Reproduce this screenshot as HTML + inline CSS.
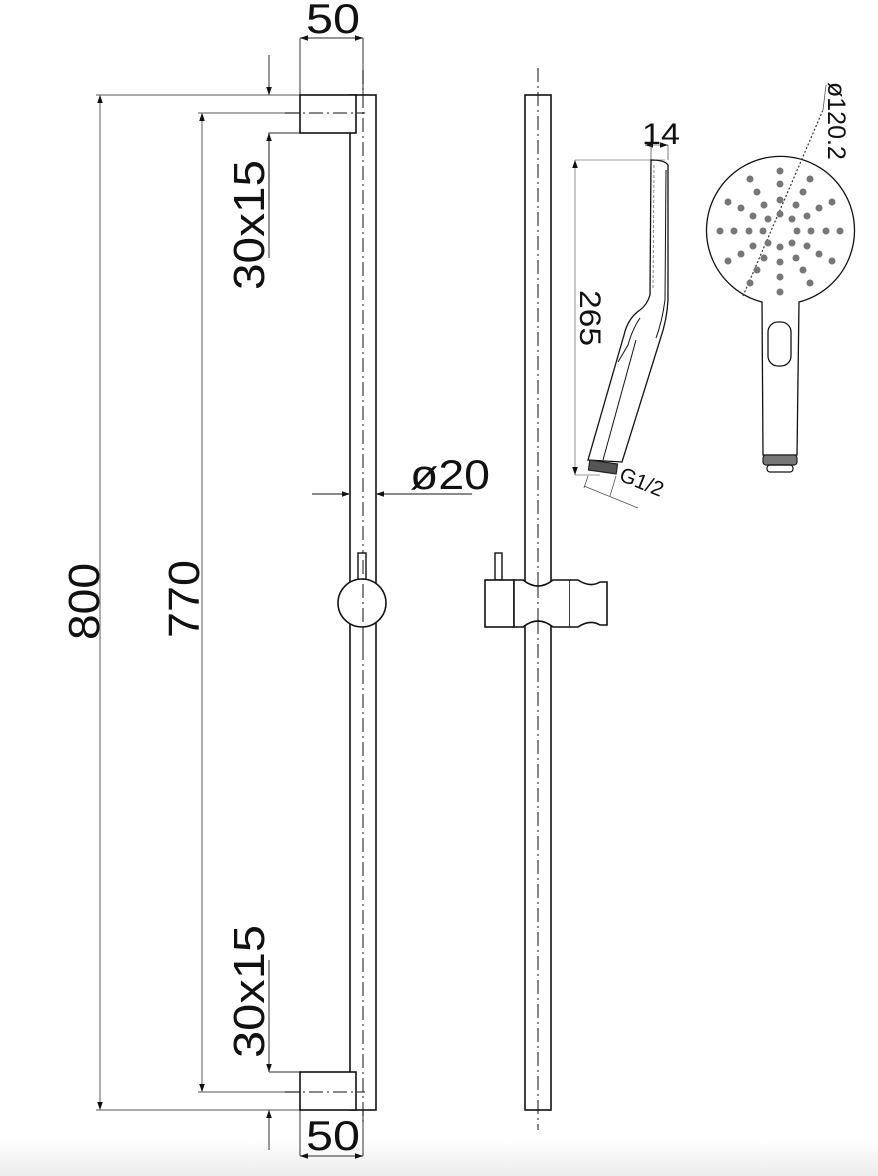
<!DOCTYPE html>
<html><head><style>
html,body{margin:0;padding:0;background:#fff;width:878px;height:1176px;overflow:hidden}
svg{display:block}
text{font-family:"Liberation Sans",sans-serif;fill:#111}
</style></head><body>
<svg width="878" height="1176" viewBox="0 0 878 1176">
<defs>
<linearGradient id="bg" x1="0" y1="0" x2="0" y2="1">
<stop offset="0" stop-color="#fff"/><stop offset="1" stop-color="#ececec"/>
</linearGradient>
<marker id="a" viewBox="0 0 10 10" refX="10" refY="5" markerWidth="12" markerHeight="8" orient="auto-start-reverse" markerUnits="userSpaceOnUse"><path d="M0,1.5 L10,5 L0,8.5 z" fill="#111"/></marker>
</defs>
<rect x="0" y="1140" width="878" height="36" fill="url(#bg)"/>
<g fill="none" stroke="#111" stroke-width="1.2">
<line x1="100" y1="95" x2="100" y2="1110" stroke="#777" marker-start="url(#a)" marker-end="url(#a)"/>
<line x1="96" y1="95" x2="300" y2="95" stroke="#777"/>
<line x1="96" y1="1110" x2="300" y2="1110" stroke="#777"/>
<line x1="202" y1="113" x2="202" y2="1092" stroke="#777" marker-start="url(#a)" marker-end="url(#a)"/>
<line x1="198" y1="113" x2="300" y2="113" stroke="#777"/>
<line x1="198" y1="1092" x2="300" y2="1092" stroke="#777"/>
<line x1="269" y1="55" x2="269" y2="95" stroke="#555" marker-end="url(#a)"/>
<polyline points="300,133 269,133 269,258" stroke="#555"/>
<line x1="269" y1="200" x2="269" y2="133" stroke="#555" marker-end="url(#a)"/>
<line x1="269" y1="960" x2="269" y2="1072" stroke="#555" marker-end="url(#a)"/>
<line x1="269" y1="1072" x2="300" y2="1072" stroke="#555"/>
<line x1="269" y1="1150" x2="269" y2="1110" stroke="#555" marker-end="url(#a)"/>
<line x1="300" y1="38" x2="300" y2="95" stroke="#555"/>
<line x1="363" y1="38" x2="363" y2="95" stroke="#555"/>
<line x1="300" y1="38" x2="363" y2="38" stroke="#555" marker-start="url(#a)" marker-end="url(#a)"/>
<line x1="300" y1="1110" x2="300" y2="1156" stroke="#555"/>
<line x1="363" y1="1110" x2="363" y2="1156" stroke="#555"/>
<line x1="300" y1="1156" x2="363" y2="1156" stroke="#555" marker-start="url(#a)" marker-end="url(#a)"/>
<rect x="350" y="95" width="26" height="1015" stroke-width="1.6"/>
<rect x="300" y="95" width="56" height="38" fill="#fff" stroke-width="1.6"/>
<rect x="300" y="1072" width="56" height="38" fill="#fff" stroke-width="1.6"/>
<line x1="363" y1="70" x2="363" y2="1125" stroke-dasharray="14,4,2,4" stroke-width="1"/>
<line x1="285" y1="113" x2="365" y2="113" stroke-dasharray="14,4,2,4" stroke-width="1"/>
<line x1="285" y1="1092" x2="365" y2="1092" stroke-dasharray="14,4,2,4" stroke-width="1"/>
<line x1="312" y1="494" x2="350" y2="494" stroke="#444" marker-end="url(#a)"/>
<line x1="472" y1="494" x2="376" y2="494" stroke="#444" marker-end="url(#a)"/>
<rect x="358" y="553" width="8" height="27" fill="#fff" stroke-width="1.4"/>
<circle cx="362" cy="603" r="24" fill="#fff" stroke-width="1.6"/>
<line x1="363" y1="560" x2="363" y2="650" stroke-dasharray="14,4,2,4" stroke-width="1"/>
<rect x="525" y="95" width="26" height="1015" stroke-width="1.6"/>
<line x1="538" y1="68" x2="538" y2="1130" stroke-dasharray="14,4,2,4" stroke-width="1"/>
<rect x="495" y="553" width="7" height="27" fill="#fff" stroke-width="1.4"/>
<rect x="485" y="580" width="29" height="47" fill="#fff" stroke-width="1.6"/>
<path d="M514,580 L523,580 Q538,592 553,580 L570,580 L570,627 L553,627 Q538,615 523,627 L514,627 Z" fill="#fff" stroke-width="1.6"/>
<path d="M570,580 L578,580 Q590,588 600,582 L607,582 L607,625 L600,625 Q590,619 578,627 L570,627" fill="#fff" stroke-width="1.6"/>
<line x1="538" y1="584" x2="538" y2="625" stroke-dasharray="14,4,2,4" stroke-width="1"/>
<line x1="575" y1="160" x2="665" y2="160" stroke="#777" stroke-width="0.8"/>
<line x1="575" y1="160" x2="575" y2="475" stroke="#777" stroke-width="0.8" marker-start="url(#a)" marker-end="url(#a)"/>
<line x1="575" y1="475" x2="600" y2="475" stroke="#777" stroke-width="0.8"/>
<line x1="645" y1="145" x2="668" y2="145" stroke="#555" stroke-width="0.8" marker-start="url(#a)" marker-end="url(#a)"/>
<line x1="651" y1="145" x2="651" y2="160" stroke="#555" stroke-width="0.8"/>
<line x1="668" y1="145" x2="668" y2="160" stroke="#555" stroke-width="0.8"/>
<path d="M651,160 L650,295 Q647,305 640,310 Q628,318 624,335 L588,460 L622,462 L660,340 Q667,320 668,300 L668,165 Q665,160 651,160 Z" stroke-width="1.3"/>
<path d="M666,170 L665,300 Q662,322 656,338" stroke-width="1"/>
<path d="M654,165 L653,290" stroke="#888" stroke-dasharray="3,2" stroke-width="1"/>
<path d="M640,318 Q632,330 628,345 L618,362" stroke-width="1"/>
<path d="M603,460 L636,340" stroke-width="1"/>
<rect x="589" y="462" width="28" height="10" fill="#555" stroke="#222" transform="rotate(8 603 467)"/>
<line x1="584" y1="486" x2="638" y2="508" stroke="#555" stroke-width="0.8"/>
<line x1="588" y1="476" x2="584" y2="488" stroke="#555" stroke-width="0.8"/>
<line x1="616" y1="476" x2="610" y2="496" stroke="#555" stroke-width="0.8"/>
<path d="M762,302 A74,74 0 1 1 799,302 L797,455 L763,455 Z" fill="#fff" stroke-width="1.3"/>
<rect x="768" y="322" width="23" height="44" rx="10" stroke-width="1.3"/>
<rect x="763" y="455" width="34" height="10" rx="3" fill="#777" stroke="#222"/>
<rect x="767" y="465" width="26" height="7" rx="3" stroke-width="1.2"/>
<line x1="743" y1="296" x2="823" y2="110" stroke="#333" stroke-dasharray="2,2" stroke-width="1.2"/>
<line x1="823" y1="110" x2="826" y2="85" stroke="#555" stroke-width="0.8"/>
</g>
<g fill="#777">
<circle cx="780" cy="171" r="3.5"/><circle cx="780" cy="184" r="3.5"/><circle cx="780" cy="200" r="3.5"/><circle cx="780" cy="214" r="3.5"/>
<circle cx="780" cy="247" r="3.5"/><circle cx="780" cy="262" r="3.5"/><circle cx="780" cy="277" r="3.5"/><circle cx="780" cy="292" r="3.5"/>
<circle cx="720" cy="231" r="3.5"/><circle cx="734" cy="231" r="3.5"/><circle cx="749" cy="231" r="3.5"/><circle cx="763" cy="231" r="3.5"/>
<circle cx="797" cy="231" r="3.5"/><circle cx="811" cy="231" r="3.5"/><circle cx="826" cy="231" r="3.5"/><circle cx="840" cy="231" r="3.5"/>
<circle cx="750" cy="179" r="3.5"/><circle cx="757" cy="192" r="3.5"/><circle cx="764" cy="205" r="3.5"/><circle cx="768" cy="219" r="3.5"/>
<circle cx="810" cy="179" r="3.5"/><circle cx="803" cy="192" r="3.5"/><circle cx="796" cy="205" r="3.5"/><circle cx="792" cy="219" r="3.5"/>
<circle cx="728" cy="202" r="3.5"/><circle cx="741" cy="208" r="3.5"/><circle cx="753" cy="216" r="3.5"/>
<circle cx="832" cy="202" r="3.5"/><circle cx="819" cy="208" r="3.5"/><circle cx="807" cy="216" r="3.5"/>
<circle cx="728" cy="261" r="3.5"/><circle cx="741" cy="254" r="3.5"/><circle cx="753" cy="246" r="3.5"/>
<circle cx="832" cy="261" r="3.5"/><circle cx="819" cy="254" r="3.5"/><circle cx="807" cy="246" r="3.5"/>
<circle cx="750" cy="283" r="3.5"/><circle cx="757" cy="270" r="3.5"/><circle cx="764" cy="258" r="3.5"/><circle cx="768" cy="243" r="3.5"/>
<circle cx="810" cy="283" r="3.5"/><circle cx="803" cy="270" r="3.5"/><circle cx="796" cy="258" r="3.5"/><circle cx="792" cy="243" r="3.5"/>
</g>
<text x="306" y="33" font-size="42" textLength="54" lengthAdjust="spacingAndGlyphs">50</text>
<text x="306" y="1150" font-size="42" textLength="54" lengthAdjust="spacingAndGlyphs">50</text>
<text x="410" y="489" font-size="42" textLength="80" lengthAdjust="spacingAndGlyphs">ø20</text>
<text transform="translate(99,640) rotate(-90)" font-size="44" textLength="77" lengthAdjust="spacingAndGlyphs">800</text>
<text transform="translate(199,638) rotate(-90)" font-size="44" textLength="78" lengthAdjust="spacingAndGlyphs">770</text>
<text transform="translate(264,290) rotate(-90)" font-size="44" textLength="130" lengthAdjust="spacingAndGlyphs">30x15</text>
<text transform="translate(264,1058) rotate(-90)" font-size="44" textLength="133" lengthAdjust="spacingAndGlyphs">30x15</text>
<text x="642" y="144" font-size="30" textLength="38" lengthAdjust="spacingAndGlyphs">14</text>
<text transform="translate(580,290) rotate(90)" font-size="30" textLength="56" lengthAdjust="spacingAndGlyphs">265</text>
<text transform="translate(618,480) rotate(22)" font-size="21">G1/2</text>
<text transform="translate(828,82) rotate(90)" font-size="25">ø120.2</text>
</svg>
</body></html>
